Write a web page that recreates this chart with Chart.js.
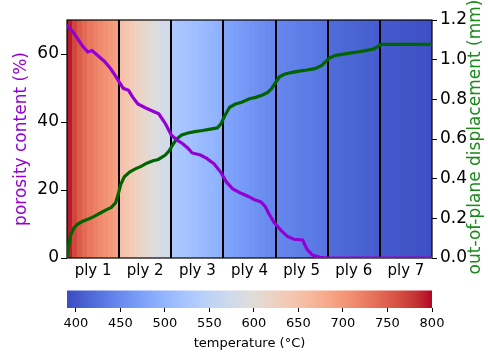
<!DOCTYPE html>
<html><head><meta charset="utf-8">
<script src="https://cdn.jsdelivr.net/npm/chart.js@4/dist/chart.umd.min.js"></script>
<style>html,body{margin:0;padding:0;background:#fff}#wrap{width:488px;height:352px;position:relative}</style>
</head><body><div id="wrap"><canvas id="c" width="488" height="352"></canvas></div>
<script>
// ---------- data ----------
const plyLabels = ['ply 1','ply 2','ply 3','ply 4','ply 5','ply 6','ply 7'];
const plyBounds = [0,1,2,3,4,5,6,7];
// temperature (°C) of each strip inside each ply (left -> right)
const ply1Temps = [792,768,752,740,730,721,713,706,699,692];
const ply2Temps = [652,643,634,625,616,607,598,590,582,574];
const ply3Temps = [530,526,522,518,514,510,506,502,498,495];
const ply4Temps = [478,475,471,468,464,461,457,454,450,447];
const ply5Temps = [446,444,442,440,438,436,434,432,430,428];
const ply6Temps = [420,418,417,415,414,412,411,409,408,406];
const ply7Temps = [403,402,401,400,399,398,397,396,395,393];
const tempMin = 390, tempMax = 800;
const tempTicks = [400,450,500,550,600,650,700,750,800];
const porosityTicks = [0,20,40,60];
const dispTicks = [0,0.2,0.4,0.6,0.8,1.0,1.2];

const porosityX = [0,0.1,0.2,0.3,0.4,0.48,0.6,0.72,0.83,0.92,1.0,1.08,1.18,1.26,1.36,1.5,1.66,1.76,1.88,2.0,2.1,2.22,2.32,2.4,2.56,2.68,2.82,2.95,3.06,3.18,3.33,3.48,3.6,3.72,3.8,3.88,3.98,4.1,4.22,4.35,4.52,4.6,4.7,4.85,5.0,7.0];
const porosityY = [68.5,66.8,64.6,62.3,60.6,61.0,59.4,57.8,55.8,53.8,51.8,49.9,49.3,47.3,45.3,44.2,43.1,42.4,39.7,36.2,34.8,33.6,32.3,30.9,30.3,29.3,27.7,25.2,22.3,20.3,19.1,18.1,17.1,16.5,15.2,12.8,10.3,8.2,6.4,5.5,5.3,2.6,0.9,0.2,0,0];

const dispX = [0,0.03,0.07,0.13,0.2,0.3,0.4,0.52,0.64,0.75,0.85,0.93,0.98,1.03,1.1,1.2,1.3,1.42,1.53,1.65,1.75,1.88,1.96,2.03,2.1,2.2,2.32,2.45,2.6,2.75,2.88,2.95,3.03,3.12,3.22,3.35,3.5,3.62,3.75,3.85,3.93,4.0,4.08,4.18,4.3,4.45,4.6,4.75,4.88,4.96,5.03,5.15,5.3,5.45,5.6,5.75,5.88,5.96,6.02,7.0];
const dispY = [0,0.06,0.115,0.15,0.17,0.185,0.195,0.21,0.227,0.243,0.255,0.278,0.32,0.37,0.41,0.433,0.448,0.462,0.478,0.49,0.497,0.518,0.54,0.572,0.6,0.62,0.63,0.637,0.643,0.65,0.656,0.675,0.72,0.76,0.775,0.785,0.803,0.81,0.822,0.835,0.856,0.885,0.915,0.928,0.935,0.942,0.948,0.955,0.97,0.99,1.008,1.022,1.028,1.034,1.04,1.047,1.054,1.066,1.077,1.077];

const plyTemps = [ply1Temps,ply2Temps,ply3Temps,ply4Temps,ply5Temps,ply6Temps,ply7Temps];

// ---------- coolwarm colormap ----------
const CW = [[59,76,192],[68,90,204],[77,104,215],[87,117,225],[98,130,234],[108,142,241],[119,154,247],[130,165,251],[141,176,254],[152,185,255],[163,194,255],[174,201,253],[184,208,249],[194,213,244],[204,217,238],[213,219,230],[221,221,221],[229,216,209],[236,211,197],[241,204,185],[245,196,173],[247,187,160],[247,177,148],[247,166,135],[244,154,123],[241,141,111],[236,127,99],[229,112,88],[222,96,77],[213,80,66],[203,62,56],[192,40,47],[180,4,38]];
function coolwarm(t){
  t = Math.max(0, Math.min(1, t));
  const f = t*(CW.length-1), i = Math.min(CW.length-2, Math.floor(f)), r = f-i;
  const a = CW[i], b = CW[i+1];
  return 'rgb('+[0,1,2].map(k=>Math.round(a[k]+(b[k]-a[k])*r)).join(',')+')';
}

const FONT = 'DejaVu Sans';
const PURPLE = '#9400d3', DGREEN = '#006400', TGREEN = '#1a8a1a';

const bgPlugin = {
  id:'bg',
  beforeDatasetsDraw(chart){
    const ctx = chart.ctx, xs = chart.scales.x, ts = chart.scales.temp, ca = chart.chartArea;
    ctx.save();
    plyTemps.forEach((temps, i)=>{
      const a = plyBounds[i], b = plyBounds[i+1], n = temps.length;
      temps.forEach((T, j)=>{
        const x0 = Math.floor(xs.getPixelForValue(a + (b-a)*j/n));
        const x1 = Math.ceil(xs.getPixelForValue(a + (b-a)*(j+1)/n));
        ctx.fillStyle = coolwarm((T - ts.min)/(ts.max - ts.min));
        ctx.fillRect(x0, ca.top, x1-x0, ca.bottom-ca.top);
      });
    });
    // ply separators
    ctx.strokeStyle = '#000'; ctx.lineWidth = 2;
    plyBounds.slice(1,-1).forEach(v=>{
      const x = Math.round(xs.getPixelForValue(v));
      ctx.beginPath(); ctx.moveTo(x, ca.top); ctx.lineTo(x, ca.bottom); ctx.stroke();
    });
    // frame
    ctx.lineWidth = 1.2;
    ctx.strokeRect(ca.left, ca.top, ca.right-ca.left, ca.bottom-ca.top);
    // colorbar
    const top = ts.top - 17.5, bot = ts.top;
    for(let px = Math.floor(ts.left); px < Math.ceil(ts.right); px++){
      const v = ts.getValueForPixel(px+0.5);
      ctx.fillStyle = coolwarm((v - ts.min)/(ts.max - ts.min));
      ctx.fillRect(px, top, 1, bot-top);
    }
    ctx.restore();
  },
  afterDraw(chart){
    // right axis title, rotated to read bottom -> top
    const s = chart.scales.y2, ctx = chart.ctx;
    ctx.save();
    ctx.translate(476, (s.top + s.bottom)/2 - 2);
    ctx.rotate(-Math.PI/2);
    ctx.font = '17px "' + FONT + '"';
    ctx.fillStyle = TGREEN;
    ctx.textAlign = 'center'; ctx.textBaseline = 'middle';
    ctx.fillText('out-of-plane displacement (mm)', 0, 0);
    ctx.restore();
  }
};

const plyCenters = plyBounds.slice(0,-1).map((v,i)=>(v+plyBounds[i+1])/2);

new Chart(document.getElementById('c'), {
  type:'line',
  data:{
    datasets:[
      {label:'porosity', data: porosityX.map((x,i)=>({x, y:porosityY[i]})), yAxisID:'y',
       borderColor:PURPLE, borderWidth:3.2, pointRadius:0, tension:0, fill:false},
      {label:'displacement', data: dispX.map((x,i)=>({x, y:dispY[i]})), yAxisID:'y2',
       borderColor:DGREEN, borderWidth:3.2, pointRadius:0, tension:0, fill:false}
    ]
  },
  options:{
    responsive:false, animation:false, devicePixelRatio:1,
    layout:{padding:{top:20,left:0,right:0,bottom:0}},
    plugins:{legend:{display:false}, tooltip:{enabled:false}},
    scales:{
      x:{type:'linear', position:'bottom', weight:0, min:0, max:7,
         afterBuildTicks(s){ s.ticks = plyCenters.map(v=>({value:v})); },
         afterFit(s){ s.height = 50; },
         grid:{display:true, drawOnChartArea:false, drawTicks:false},
         border:{display:false},
         ticks:{autoSkip:false, maxRotation:0, padding:4, color:'#000', font:{family:FONT,size:15},
                callback:(v,i)=>plyLabels[i]}},
      temp:{type:'linear', position:'bottom', weight:1, min:tempMin, max:tempMax,
         afterBuildTicks(s){ s.ticks = tempTicks.map(v=>({value:v})); },
         afterFit(s){ s.height = 44; },
         grid:{display:true, drawOnChartArea:false, drawTicks:true, tickLength:4, color:'#000', lineWidth:1},
         border:{display:false},
         ticks:{autoSkip:false, maxRotation:0, padding:4, color:'#000', font:{family:FONT,size:13}},
         title:{display:true, text:'temperature (°C)', color:'#000', font:{family:FONT,size:13}, padding:{top:0,bottom:1}}},
      y:{type:'linear', position:'left', min:0, max:70,
         afterBuildTicks(s){ s.ticks = porosityTicks.map(v=>({value:v})); },
         afterFit(s){ s.width = 67; },
         grid:{display:true, drawOnChartArea:false, drawTicks:true, tickLength:6, color:'#000'},
         border:{display:false},
         ticks:{padding:2, color:'#000', font:{family:FONT,size:17}},
         title:{display:true, text:'porosity content (%)', color:PURPLE, font:{family:FONT,size:17}, padding:{top:11,bottom:0}}},
      y2:{type:'linear', position:'right', min:0, max:1.2,
         afterBuildTicks(s){ s.ticks = dispTicks.map(v=>({value:v})); },
         afterFit(s){ s.width = 56; },
         grid:{display:true, drawOnChartArea:false, drawTicks:true, tickLength:5, color:'#000'},
         border:{display:false},
         ticks:{padding:3, color:'#000', font:{family:FONT,size:17}, callback:v=>v.toFixed(1)},
         title:{display:false}}
    }
  },
  plugins:[bgPlugin]
});
</script></body></html>
